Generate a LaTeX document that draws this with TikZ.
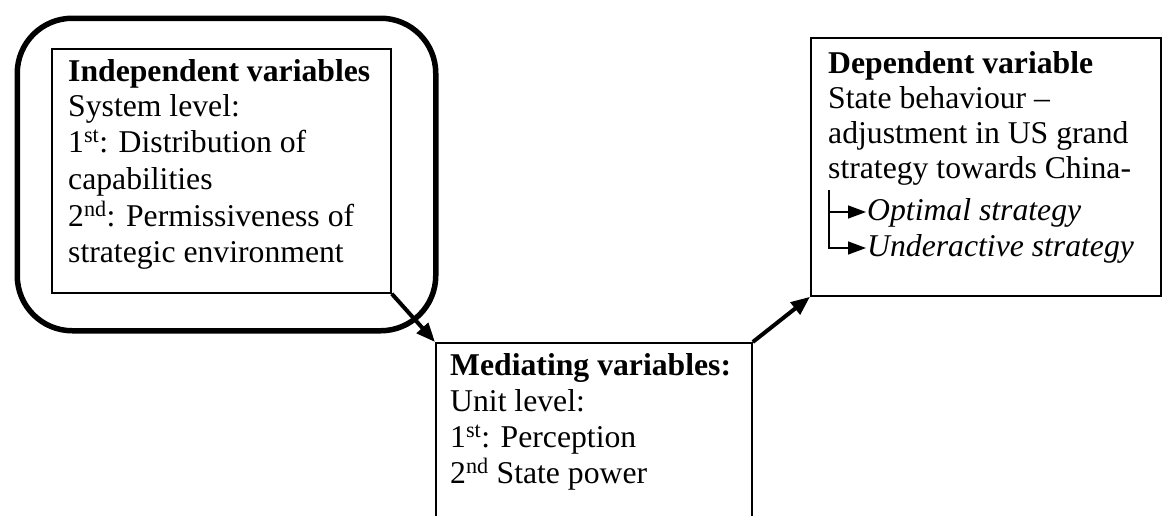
\documentclass[tikz,border=0pt]{standalone}
\usepackage{fontspec}
\setmainfont{Liberation Serif}
\usetikzlibrary{arrows.meta}
\begin{document}
\begin{tikzpicture}[x=1pt,y=-1pt,
  varbox/.style={draw, line width=1.8pt, inner sep=0pt, anchor=north west},
  ring/.style={draw, line width=5.5pt, rounded corners=55pt, inner sep=0pt, anchor=north west},
  ln/.style={anchor=base west, inner sep=0pt, font=\fontsize{31.7}{36}\selectfont},
  flow/.style={line width=4pt, -{Triangle[length=19pt,width=15pt]}},
  branch/.style={line width=1.4pt, -{Triangle[length=18pt,width=13pt]}}]
\clip (0,0) rectangle (1163,515);
\fill[white] (0,0) rectangle (1163,515);

% thick rounded frame around the independent variables
\node[ring, minimum width=418.5pt, minimum height=312.5pt] (frame) at (14.5,15.5) {};

% the three variable boxes (the mediating box runs off the bottom edge)
\node[varbox, minimum width=339pt, minimum height=244pt] (indep) at (51,48) {};
\node[varbox, minimum width=316pt, minimum height=220pt] (med) at (435,342) {};
\node[varbox, minimum width=350pt, minimum height=258pt] (dep) at (810,37) {};

% independent variables
\node[ln] (i1) at (68,81)  {\textbf{Independent variables}};
\node[ln] (i2) at (68,116) {System level:};
\node[ln] (i3) at (68,152) {1\textsuperscript{st}: Distribution of};
\node[ln] (i4) at (68,189) {capabilities};
\node[ln] (i5) at (68,226) {2\textsuperscript{nd}: Permissiveness of};
\node[ln] (i6) at (68,262) {strategic environment};

% mediating variables
\node[ln] (m1) at (450,375) {\textbf{Mediating variables:}};
\node[ln] (m2) at (450,411) {Unit level:};
\node[ln] (m3) at (450,447) {1\textsuperscript{st}: Perception};
\node[ln] (m4) at (450,483) {2\textsuperscript{nd} State power};

% dependent variable
\node[ln] (d1) at (828,73)  {\textbf{Dependent variable}};
\node[ln] (d2) at (828,108) {State behaviour --};
\node[ln] (d3) at (828,143) {adjustment in US grand};
\node[ln] (d4) at (828,178) {strategy towards China-};
\node[ln] (d5) at (867,220) {\itshape Optimal strategy};
\node[ln] (d6) at (867,256) {\itshape Underactive strategy};

% branching arrows to the two outcomes
\coordinate (fork) at (829,190);
\coordinate (optTip) at (866,212);
\coordinate (undTip) at (866,248);
\draw[branch] (fork) |- (optTip);
\draw[branch] (fork) |- (undTip);

% causal chain
\draw[flow] (indep.south east) -- (med.north west);
\draw[flow] (med.north east) -- (dep.south west);
\end{tikzpicture}
\end{document}
